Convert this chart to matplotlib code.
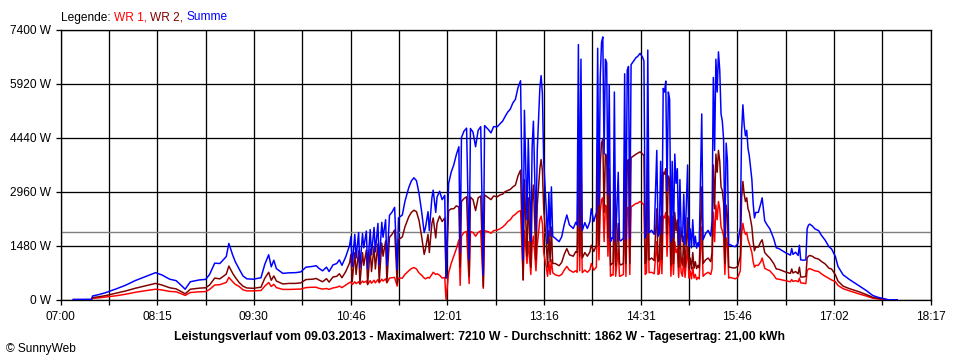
import numpy as np
import matplotlib
matplotlib.use("Agg")
import matplotlib.pyplot as plt

plt.rcParams['font.family'] = ['Liberation Sans', 'DejaVu Sans']

# ---- data (minutes after 07:00, watts) ----
minuten = [10, 24, 25, 30, 35, 43, 51, 58, 67, 74, 79, 85, 90, 94, 97, 101, 108, 113, 116, 120,
           124, 129, 131, 134, 136, 139, 142, 145, 150, 156, 159, 162, 164, 166, 168, 173, 178, 183, 187, 191,
           196, 199, 201, 204, 207, 209, 212, 215, 217, 219, 222, 225, 226, 227, 229, 230, 232, 233, 235, 236,
           238, 239, 241, 242, 244, 245, 247, 248, 250, 251, 253, 254, 256, 258, 260, 262, 263, 266, 268, 271,
           273, 275, 277, 279, 281, 283, 284, 286, 287, 289, 290, 292, 293, 295, 297, 299, 300, 302, 304, 306,
           308, 310, 311, 312, 314, 316, 318, 319, 321, 323, 325, 327, 329, 330, 333, 335, 337, 340, 342, 344,
           346, 348, 350, 352, 354, 356, 358, 360, 361, 363, 364, 366, 367, 368, 370, 371, 373, 374, 375, 376,
           378, 379, 380, 381, 382, 383, 385, 388, 390, 392, 394, 396, 399, 401, 402, 403, 404, 405, 406, 408,
           410, 412, 413, 415, 417, 418, 419, 420, 421, 422, 423, 424, 425, 426, 427, 428, 429, 430, 431, 432,
           434, 435, 436, 438, 439, 440, 441, 442, 443, 444, 446, 448, 449, 451, 453, 454, 455, 456, 457, 458,
           460, 462, 464, 465, 466, 467, 468, 469, 470, 471, 472, 473, 474, 475, 476, 477, 478, 479, 480, 481,
           482, 483, 484, 485, 486, 488, 489, 490, 491, 492, 493, 494, 495, 496, 497, 499, 500, 502, 504, 506,
           507, 508, 509, 510, 511, 512, 513, 514, 515, 516, 517, 518, 519, 520, 521, 523, 525, 527, 529, 530,
           531, 532, 533, 534, 535, 536, 538, 539, 540, 541, 543, 545, 546, 548, 550, 552, 555, 557, 559, 564,
           568, 569, 570, 572, 574, 575, 576, 578, 580, 581, 582, 583, 585, 587, 590, 592, 595, 598, 600, 603,
           605, 609, 614, 621, 627, 632, 636, 639, 642, 644, 651]

wr1 = [5, 5, 45, 60, 80, 115, 160, 210, 260, 295, 275, 235, 225, 170, 125, 205, 225, 230, 290, 410,
       420, 480, 620, 500, 430, 370, 280, 250, 250, 260, 380, 480, 370, 430, 340, 290, 290, 295, 300, 340,
       350, 350, 320, 300, 315, 290, 330, 350, 380, 340, 410, 480, 490, 420, 500, 450, 500, 430, 520, 480,
       520, 430, 530, 460, 540, 470, 560, 470, 570, 520, 580, 470, 600, 610, 620, 380, 600, 600, 700, 800,
       860, 890, 850, 740, 680, 600, 580, 620, 600, 700, 760, 700, 720, 680, 600, 620, 0, 740, 1000, 1200,
       1400, 1650, 400, 1750, 1850, 1880, 450, 1880, 1850, 1750, 1850, 1900, 320, 1900, 1870, 1830, 1900, 1920, 1950, 2000,
       2060, 2150, 2200, 2300, 2350, 2420, 2450, 550, 1900, 1000, 1600, 700, 1500, 1750, 800, 1500, 2200, 2300, 2100, 1300,
       900, 650, 1050, 700, 1100, 750, 690, 660, 700, 820, 920, 820, 760, 800, 760, 2700, 800, 2600, 750, 820,
       760, 830, 1000, 820, 900, 2650, 1100, 2400, 2750, 2800, 1600, 2600, 2550, 1200, 2300, 650, 700, 680, 2250, 650,
       1400, 650, 660, 700, 2450, 650, 2500, 2550, 700, 2550, 2600, 2650, 2650, 2700, 2650, 2600, 700, 740, 2700, 750,
       760, 720, 1600, 700, 730, 1500, 720, 2300, 2250, 2400, 1200, 2300, 2200, 650, 1500, 700, 1600, 1300, 1400, 620,
       1300, 750, 650, 1150, 620, 1450, 600, 800, 580, 900, 600, 700, 560, 620, 580, 2000, 650, 720, 760, 700,
       850, 2400, 1600, 2600, 2200, 2700, 2500, 2000, 1900, 1750, 700, 1700, 1500, 600, 620, 600, 580, 620, 800, 1800,
       2100, 1900, 1800, 1850, 1650, 1550, 1300, 1050, 900, 950, 950, 1050, 1150, 870, 830, 800, 680, 580, 570, 530,
       500, 560, 510, 530, 500, 600, 470, 460, 450, 800, 850, 860, 830, 800, 780, 720, 650, 590, 550, 500,
       400, 310, 250, 170, 110, 50, 30, 20, 10, 3, 2]

wr2 = [10, 12, 65, 90, 120, 185, 250, 320, 395, 455, 410, 335, 305, 230, 170, 295, 325, 335, 410, 600,
       580, 710, 930, 730, 620, 480, 380, 330, 320, 350, 600, 760, 540, 660, 520, 440, 455, 455, 470, 560,
       570, 590, 550, 500, 585, 490, 630, 650, 720, 610, 780, 1020, 1250, 500, 1300, 700, 1350, 450, 1300, 950,
       1370, 420, 1400, 780, 1450, 850, 1540, 500, 1560, 1200, 1620, 480, 1720, 1800, 1920, 450, 1650, 1730, 2000, 2280,
       2400, 2460, 2420, 2180, 1750, 1250, 1400, 1800, 1300, 2100, 2250, 1700, 2100, 2300, 2150, 2250, 600, 2450, 2500, 2500,
       2580, 2550, 900, 2700, 2780, 2830, 650, 2820, 2750, 2450, 2800, 2850, 360, 2880, 2800, 2750, 2850, 2830, 2880, 2900,
       2970, 3000, 3030, 3100, 3150, 3400, 3560, 550, 3300, 1200, 2800, 900, 2700, 3150, 1100, 2600, 3600, 3850, 3550, 2500,
       1600, 900, 1900, 1050, 2000, 1000, 1000, 940, 1030, 1250, 1410, 1240, 1200, 1330, 1300, 4300, 1200, 4000, 1150, 1300,
       1200, 1320, 1500, 1330, 1500, 4250, 1500, 3700, 4300, 4410, 2400, 4000, 3950, 1700, 3600, 950, 1000, 1000, 3450, 950,
       2100, 1000, 960, 1000, 3750, 1000, 3800, 3850, 1000, 3900, 3950, 4000, 4020, 4060, 4000, 3950, 1000, 1100, 4150, 1100,
       1150, 1080, 2500, 1050, 1100, 2300, 1100, 3500, 3450, 3600, 1800, 3400, 3300, 950, 2300, 1000, 2400, 1900, 2200, 900,
       2000, 1100, 950, 1750, 900, 2250, 880, 1150, 850, 1300, 870, 1050, 860, 950, 880, 3100, 1000, 1100, 1150, 1050,
       1300, 3700, 2500, 4000, 3500, 4100, 3800, 3100, 3000, 2650, 1000, 2600, 2300, 900, 900, 880, 880, 920, 1200, 2800,
       3250, 2900, 2700, 2800, 2500, 2400, 2000, 1600, 1350, 1450, 1450, 1600, 1650, 1300, 1220, 1150, 1000, 850, 840, 770,
       730, 850, 740, 780, 720, 900, 630, 630, 650, 1150, 1200, 1220, 1200, 1150, 1120, 1060, 990, 870, 850, 690,
       520, 380, 310, 230, 150, 75, 45, 30, 15, 5, 4]

summe = [a + b for a, b in zip(wr1, wr2)]

y_ticks = [0, 1480, 2960, 4440, 5920, 7400]
y_labels = ["0 W", "1480 W", "2960 W", "4440 W", "5920 W", "7400 W"]
x_labels = ["07:00", "08:15", "09:30", "10:46", "12:01", "13:16", "14:31", "15:46", "17:02", "18:17"]
x_span = 677          # minutes from 07:00 to 18:17
durchschnitt = 1862

legend_parts = [("Legende: ", 'black'), ("WR 1, ", '#FF0000'),
                ("WR 2, ", '#800000'), ("Summe", '#0000FF')]
title = ("Leistungsverlauf vom 09.03.2013 - Maximalwert: 7210 W - "
         "Durchschnitt: 1862 W - Tagesertrag: 21,00 kWh")

# ---- figure ----
W, H = 960, 360
fig = plt.figure(figsize=(W / 100, H / 100), dpi=100)
ax = fig.add_axes([60.5 / W, 60 / H, 870 / W, 270 / H])

px = 72 / 100  # one pixel in points
fs = 8.6

ax.set_xlim(0, x_span)
ax.set_ylim(0, 7400)

xt = np.linspace(0, x_span, 19)
ax.set_xticks(xt)
ax.set_xticklabels([x_labels[i // 2] if i % 2 == 0 else "" for i in range(19)])
ax.set_yticks(y_ticks)
ax.set_yticklabels(y_labels)

ax.tick_params(axis='both', direction='out', length=5 * px, width=1.3 * px,
               color='black', labelsize=fs, labelcolor='black')
ax.tick_params(axis='x', pad=6.5 * px)
ax.tick_params(axis='y', pad=4 * px)

ax.set_axisbelow(True)
ax.grid(True, color='black', linewidth=1.3 * px)
for s in ax.spines.values():
    s.set_color('black')
    s.set_linewidth(1.3 * px)

ax.axhline(durchschnitt, color='#808080', linewidth=1.4 * px, zorder=1.5)

lw = 1.5 * px
ax.plot(minuten, wr1, color='#FF0000', linewidth=lw, zorder=3)
ax.plot(minuten, wr2, color='#800000', linewidth=lw, zorder=4)
ax.plot(minuten, summe, color='#0000FF', linewidth=lw, zorder=5)

# ---- texts ----
fig.canvas.draw()
renderer = fig.canvas.get_renderer()
x_cur = 61.0
for s, c in legend_parts:
    t = fig.text(x_cur / W, 1 - 20.5 / H, s, fontsize=fs, color=c, va='baseline', ha='left')
    bb = t.get_window_extent(renderer=renderer)
    x_cur += bb.width

fig.text(480 / W, 1 - 337 / H, title, fontsize=8.8, fontweight='bold',
         ha='center', va='center', color='black')
fig.text(6 / W, 1 - 349 / H, "\u00a9 SunnyWeb", fontsize=fs, ha='left', va='center', color='black')

fig.savefig("out.png", dpi=100, facecolor='white')
